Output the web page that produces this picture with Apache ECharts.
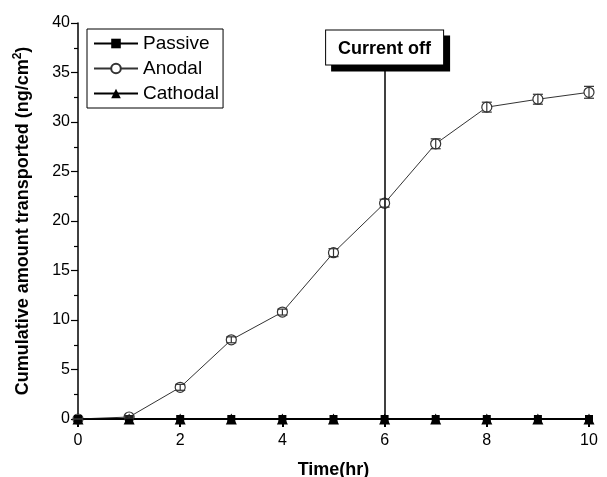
<!DOCTYPE html>
<html><head><meta charset="utf-8">
<script src="https://cdn.jsdelivr.net/npm/echarts@6/dist/echarts.min.js"></script>
<style>html,body{margin:0;padding:0;background:#fff}#c{width:607px;height:477px}</style>
</head><body><div id="c"></div>
<script>
const times = [0,1,2,3,4,5,6,7,8,9,10];
const passive = [0,0,0,0,0,0,0,0,0,0,0];
const anodal = [0,0.2,3.2,8.0,10.8,16.8,21.8,27.8,31.5,32.3,33.0];
const anodalErr = [0,0.1,0.3,0.3,0.3,0.4,0.4,0.5,0.5,0.5,0.6];
const cathodal = [0,0,0,0,0,0,0,0,0,0,0];
const currentOffTime = 6;
const currentOffTop = 35.8;

const font = 'Liberation Sans, Arial, sans-serif';
const chart = echarts.init(document.getElementById('c'));
const pair = arr => times.map((t,i)=>[t,arr[i]]);
chart.setOption({
  animation:false,
  backgroundColor:'#fff',
  textStyle:{fontFamily:font,color:'#000'},
  grid:{left:78,right:18,top:23,bottom:58,containLabel:false,outerBoundsMode:'none'},
  legend:{
    left:87, top:29, orient:'vertical', itemGap:6, itemWidth:44, itemHeight:12,
    padding:[5,4,5,6],
    borderColor:'#000', borderWidth:1, backgroundColor:'#fff',
    textStyle:{fontSize:19,fontFamily:font,color:'#000'},
    data:['Passive','Anodal','Cathodal']
  },
  xAxis:{type:'value',min:0,max:10,interval:2,
    name:'Time(hr)',nameLocation:'middle',nameGap:42,
    nameTextStyle:{fontSize:18,fontWeight:'bold',fontFamily:font,color:'#000'},
    axisLine:{lineStyle:{color:'#000',width:2}},
    axisTick:{lineStyle:{color:'#000',width:2},length:8},
    minorTick:{show:true,splitNumber:2,length:4,lineStyle:{color:'#000',width:1.5}},
    axisLabel:{fontSize:16,color:'#000',fontFamily:font,margin:14},
    splitLine:{show:false}},
  yAxis:{type:'value',min:0,max:40,interval:5,
    name:'{a|Cumulative amount transported (ng/cm}{s|2}{a|)}',nameLocation:'middle',nameGap:44,
    nameTextStyle:{fontSize:18,fontWeight:'bold',fontFamily:font,color:'#000',
      rich:{a:{fontSize:18,fontWeight:'bold',fontFamily:font,color:'#000'},
            s:{fontSize:12,fontWeight:'bold',fontFamily:font,color:'#000',verticalAlign:'top',padding:[0,0,10,0]}}},
    axisLine:{show:true,lineStyle:{color:'#000',width:1.5}},
    axisTick:{show:true,lineStyle:{color:'#000',width:1.2},length:7},
    minorTick:{show:true,splitNumber:2,length:4,lineStyle:{color:'#000',width:1.2}},
    axisLabel:{fontSize:16,color:'#000',fontFamily:font,margin:8},
    splitLine:{show:false}},
  series:[
    {name:'Passive',type:'line',data:pair(passive),symbol:'rect',symbolSize:8,
     itemStyle:{color:'#000'},lineStyle:{color:'#000',width:1},z:3},
    {name:'Anodal',type:'line',data:pair(anodal),symbol:'circle',symbolSize:10,
     itemStyle:{color:'#fff',borderColor:'#333',borderWidth:1.2},lineStyle:{color:'#333',width:1},z:2,
     markLine:{silent:true,symbol:'none',
       lineStyle:{color:'#000',width:1.5,type:'solid'},
       label:{show:true,position:'end',formatter:'Current off',fontSize:18,fontWeight:'bold',
         fontFamily:font,color:'#000',backgroundColor:'#fff',borderColor:'#000',borderWidth:1,
         padding:[9,12,7,12],distance:0,
         shadowColor:'#000',shadowBlur:0,shadowOffsetX:6,shadowOffsetY:6},
       data:[[{coord:[currentOffTime,0]},{coord:[currentOffTime,currentOffTop]}]]}},
    {name:'Cathodal',type:'line',data:pair(cathodal),symbol:'triangle',symbolSize:11,
     itemStyle:{color:'#000'},lineStyle:{color:'#000',width:1},z:3},
    {name:'err',type:'custom',z:5,
     data:times.map((t,i)=>[t,anodal[i]-anodalErr[i],anodal[i]+anodalErr[i]]),
     renderItem:function(params,api){
       const x=api.value(0);
       const lo=api.coord([x,api.value(1)]);
       const hi=api.coord([x,api.value(2)]);
       const w=5;
       const st={stroke:'#333',lineWidth:1.2};
       return {type:'group',children:[
         {type:'line',shape:{x1:lo[0],y1:lo[1],x2:hi[0],y2:hi[1]},style:st},
         {type:'line',shape:{x1:lo[0]-w,y1:lo[1],x2:lo[0]+w,y2:lo[1]},style:st},
         {type:'line',shape:{x1:hi[0]-w,y1:hi[1],x2:hi[0]+w,y2:hi[1]},style:st}
       ]};
     }}
  ]
});
</script></body></html>
